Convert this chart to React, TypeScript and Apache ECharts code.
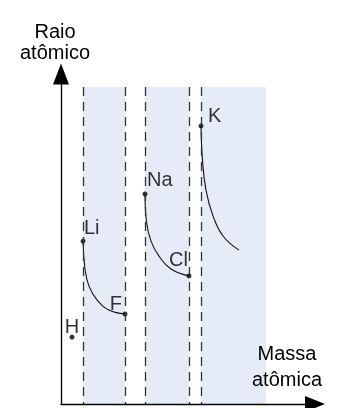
import React, { useEffect, useRef } from "react";
import * as echarts from "echarts";

// Elements (schematic positions)
const elements = ["H", "Li", "F", "Na", "Cl", "K"];
const massX = [5.5, 11, 32, 42, 64, 70];
const radiusY = [22.3, 54.3, 30, 70, 42.7, 92.7];

// Curves between elements
const curveLiF_X = [11, 12, 14, 18, 24, 32];
const curveLiF_Y = [54.3, 45, 39.3, 34.7, 31.3, 30];
const curveNaCl_X = [42, 42.8, 45, 49, 55, 64];
const curveNaCl_Y = [70, 60.5, 54.3, 49.3, 45, 42.7];
const curveK_X = [70, 70.7, 72.5, 76, 81, 89];
const curveK_Y = [92.7, 81.7, 71.3, 62.7, 56, 51.3];

// Shaded periods
const bandStart = [11, 42, 70];
const bandEnd = [32, 64, 102.5];
const bandTop = 105.7;
const dashedX = [11, 32, 42, 64, 70];

const yAxisName = "Raio\natômico";
const xAxisName = "Massa\natômica";

const FONT = 'Arial, "Liberation Sans", sans-serif';

const labelPlace: Record<string, { align: string; offset: number[] }> = {
  H: { align: "center", offset: [0, -1] },
  Li: { align: "left", offset: [1, -4] },
  F: { align: "right", offset: [-3, -1] },
  Na: { align: "left", offset: [2, -5] },
  Cl: { align: "right", offset: [-1, -7] },
  K: { align: "left", offset: [7, -1] },
};

function zip(xs: number[], ys: number[]) {
  return xs.map((x, i) => [x, ys[i]]);
}

export default function App() {
  const ref = useRef<HTMLDivElement>(null);
  useEffect(() => {
    if (!ref.current) return;
    const chart = echarts.init(ref.current, null, { renderer: "svg" });
    const curveStyle = { color: "#111", width: 1.1 };
    const curve = (xs: number[], ys: number[]) => ({
      type: "line",
      data: zip(xs, ys),
      smooth: 0.45,
      showSymbol: false,
      lineStyle: curveStyle,
      z: 3,
      silent: true,
    });
    const axisCommon = {
      axisTick: { show: false },
      axisLabel: { show: false },
      splitLine: { show: false },
    };
    chart.setOption({
      animation: false,
      grid: { left: 61, right: 22, top: 74, bottom: 4 },
      xAxis: {
        type: "value",
        min: 0,
        max: 127,
        z: 6,
        name: xAxisName,
        nameLocation: "end",
        nameGap: -28,
        nameTextStyle: {
          fontFamily: FONT,
          fontSize: 20,
          color: "#000",
          align: "center",
          verticalAlign: "bottom",
          lineHeight: 26,
          padding: [0, 0, 12, 0],
        },
        axisLine: {
          show: true,
          symbol: ["none", "triangle"],
          symbolSize: [16, 20],
          lineStyle: { color: "#000", width: 1.3 },
        },
        ...axisCommon,
      },
      yAxis: {
        type: "value",
        min: 0,
        max: 110,
        z: 6,
        name: yAxisName,
        nameLocation: "end",
        nameGap: 12,
        nameTextStyle: {
          fontFamily: FONT,
          fontSize: 20,
          color: "#000",
          align: "center",
          verticalAlign: "bottom",
          lineHeight: 21,
          padding: [0, 12, 0, 0],
        },
        axisLine: {
          show: true,
          symbol: ["none", "triangle"],
          symbolSize: [16, 21],
          lineStyle: { color: "#000", width: 1.3 },
        },
        ...axisCommon,
      },
      series: [
        {
          type: "line",
          data: [],
          z: 1,
          silent: true,
          markArea: {
            silent: true,
            itemStyle: { color: "#E6ECF7" },
            data: bandStart.map((s, i) => [
              { xAxis: s, yAxis: 0 },
              { xAxis: bandEnd[i], yAxis: bandTop },
            ]),
          },
          markLine: {
            silent: true,
            symbol: "none",
            label: { show: false },
            lineStyle: { color: "#333", width: 1.3, type: [9, 6] },
            data: dashedX.map((x) => [
              { coord: [x, bandTop] },
              { coord: [x, 0] },
            ]),
          },
        },
        curve(curveLiF_X, curveLiF_Y),
        curve(curveNaCl_X, curveNaCl_Y),
        curve(curveK_X, curveK_Y),
        {
          type: "scatter",
          z: 4,
          symbolSize: 5,
          itemStyle: { color: "#000" },
          data: elements.map((name, i) => ({
            name,
            value: [massX[i], radiusY[i]],
            label: {
              show: true,
              formatter: name,
              position: "inside",
              align: labelPlace[name].align,
              verticalAlign: "bottom",
              offset: labelPlace[name].offset,
              color: "#000",
              fontFamily: FONT,
              fontSize: 20,
            },
          })),
        },
      ],
    });
    return () => chart.dispose();
  }, []);
  return (
    <div
      ref={ref}
      style={{ position: "fixed", left: 0, top: 0, width: 337, height: 408 }}
    />
  );
}
